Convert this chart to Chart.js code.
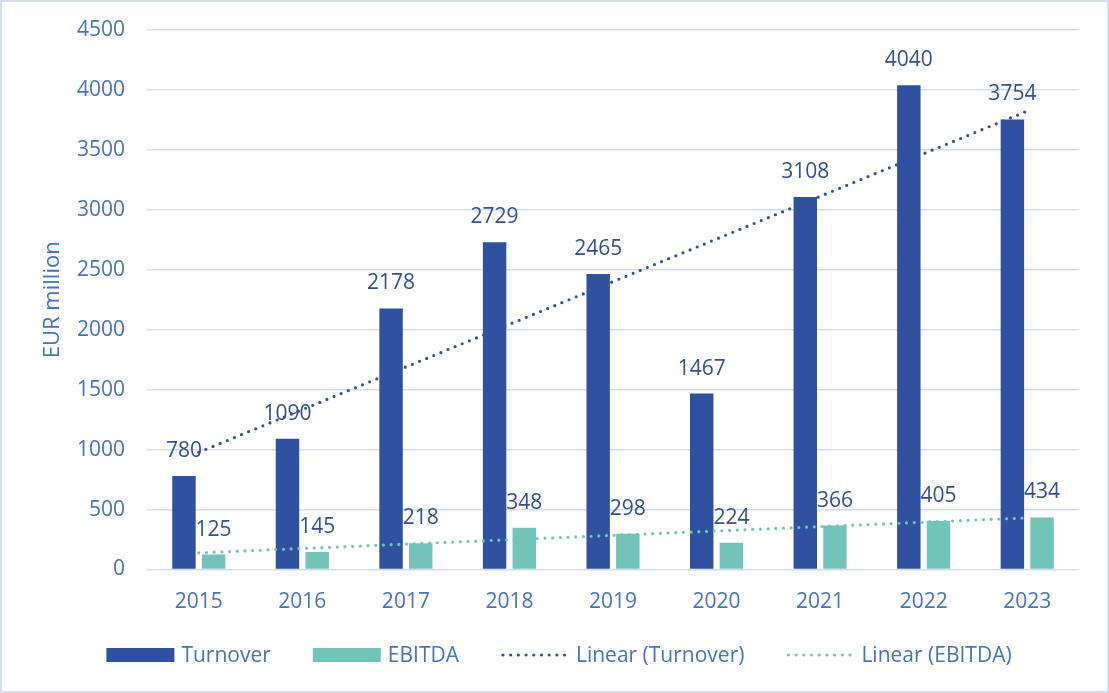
<!DOCTYPE html>
<html>
<head>
<meta charset="utf-8">
<title>Turnover and EBITDA</title>
<script src="https://cdn.jsdelivr.net/npm/chart.js@4.4.1/dist/chart.umd.min.js"></script>
<style>
  html, body { margin: 0; padding: 0; background: #ffffff; }
  canvas { display: block; }
</style>
</head>
<body>
<canvas id="chart" width="1109" height="693"></canvas>
<script>
// years on the x axis
const years = ['2015', '2016', '2017', '2018', '2019', '2020', '2021', '2022', '2023'];

// EUR million
const turnover = [780, 1090, 2178, 2729, 2465, 1467, 3108, 4040, 3754];
const ebitda = [125, 145, 218, 348, 298, 224, 366, 405, 434];

// linear trend lines, only the two end points are needed
const turnoverTrend = [978, null, null, null, null, null, null, null, 3824];
const ebitdaTrend = [139, null, null, null, null, null, null, null, 431];

const yTicks = [0, 500, 1000, 1500, 2000, 2500, 3000, 3500, 4000, 4500];
const yTitle = 'EUR million';

const blue = '#3050A0';
const teal = '#73C4B8';
const textBlue = '#4472C4';
const labelBlue = '#334F95';
const gridColor = '#D3DCF0';
const fontFamily = '"Open Sans", "Noto Sans", sans-serif';

// value above every bar
const barLabels = {
  id: 'barLabels',
  afterDatasetsDraw(chart) {
    const ctx = chart.ctx;
    ctx.save();
    ctx.font = '21px ' + fontFamily;
    ctx.fillStyle = labelBlue;
    ctx.textAlign = 'center';
    ctx.textBaseline = 'alphabetic';
    chart.data.datasets.forEach((ds, i) => {
      if (ds.type !== 'bar') return;
      chart.getDatasetMeta(i).data.forEach((bar, j) => {
        ctx.fillText(String(ds.data[j]), bar.x, bar.y - 19);
      });
    });
    ctx.restore();
  }
};

// y axis title, legend row at the bottom and the frame round the chart
const bottomLegend = {
  id: 'bottomLegend',
  afterDraw(chart) {
    const ctx = chart.ctx;
    const area = chart.chartArea;
    ctx.save();

    ctx.save();
    ctx.translate(53, (area.top + area.bottom) / 2);
    ctx.rotate(-Math.PI / 2);
    ctx.font = '22px ' + fontFamily;
    ctx.fillStyle = textBlue;
    ctx.textAlign = 'center';
    ctx.textBaseline = 'middle';
    ctx.fillText(yTitle, 0, 0);
    ctx.restore();

    const items = chart.data.datasets.map(ds => ({
      text: ds.label,
      color: ds.type === 'bar' ? ds.backgroundColor : ds.borderColor,
      dotted: ds.type === 'line'
    }));
    const markW = 68, markGap = 7, itemGap = 42, y = 655;
    ctx.font = '21px ' + fontFamily;
    let total = 0;
    items.forEach((it, i) => {
      it.w = ctx.measureText(it.text).width;
      total += markW + markGap + it.w + (i ? itemGap : 0);
    });
    let x = 559 - total / 2;
    items.forEach(it => {
      if (it.dotted) {
        ctx.strokeStyle = it.color;
        ctx.lineWidth = 3.2;
        ctx.lineCap = 'round';
        ctx.setLineDash([0, 7.7]);
        ctx.beginPath();
        ctx.moveTo(x + 2, y);
        ctx.lineTo(x + markW - 1, y);
        ctx.stroke();
        ctx.setLineDash([]);
      } else {
        ctx.fillStyle = it.color;
        ctx.fillRect(x, y - 7, markW, 14);
      }
      ctx.fillStyle = textBlue;
      ctx.textAlign = 'left';
      ctx.textBaseline = 'alphabetic';
      ctx.fillText(it.text, x + markW + markGap, y + 7);
      x += markW + markGap + it.w + itemGap;
    });

    ctx.strokeStyle = '#D6DFF1';
    ctx.lineWidth = 2;
    ctx.strokeRect(1, 1, chart.width - 2, chart.height - 2);
    ctx.restore();
  }
};

new Chart(document.getElementById('chart'), {
  data: {
    labels: years,
    datasets: [
      { type: 'bar', label: 'Turnover', data: turnover, backgroundColor: blue, order: 1 },
      { type: 'bar', label: 'EBITDA', data: ebitda, backgroundColor: teal, order: 1 },
      {
        type: 'line', label: 'Linear (Turnover)', data: turnoverTrend,
        borderColor: blue, borderWidth: 3.2, borderDash: [0, 7.7], borderCapStyle: 'round',
        pointRadius: 0, spanGaps: true, fill: false, order: 0
      },
      {
        type: 'line', label: 'Linear (EBITDA)', data: ebitdaTrend,
        borderColor: teal, borderWidth: 3.2, borderDash: [0, 7.7], borderCapStyle: 'round',
        pointRadius: 0, spanGaps: true, fill: false, order: 0
      }
    ]
  },
  options: {
    responsive: false,
    animation: false,
    categoryPercentage: 0.573,
    barPercentage: 0.79,
    layout: { padding: { left: 0, right: 30, top: 30, bottom: 73.5 } },
    plugins: {
      legend: { display: false },
      tooltip: { enabled: false }
    },
    scales: {
      x: {
        grid: { display: false },
        border: { display: false },
        ticks: { color: textBlue, font: { family: fontFamily, size: 21 }, padding: 12 },
        afterFit(scale) { scale.height = 50; }
      },
      y: {
        min: 0,
        max: 4500,
        afterBuildTicks(scale) { scale.ticks = yTicks.map(v => ({ value: v })); },
        // invisible tick marks keep the labels clear of the plot
        grid: { color: gridColor, lineWidth: 1.5, tickLength: 22, tickColor: 'rgba(0,0,0,0)' },
        border: { display: false },
        ticks: {
          color: textBlue,
          font: { family: fontFamily, size: 21 },
          padding: 0,
          callback: v => String(v)
        },
        afterFit(scale) { scale.width = 147; }
      }
    }
  },
  plugins: [barLabels, bottomLegend]
});
</script>
</body>
</html>
